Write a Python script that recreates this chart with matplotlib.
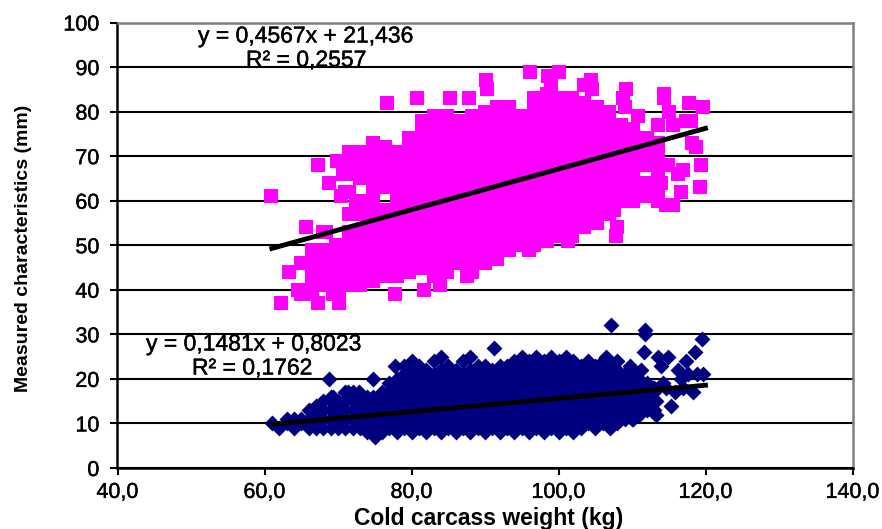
# coding=utf-8
import matplotlib
matplotlib.use("Agg")
import matplotlib.pyplot as plt
import matplotlib.patheffects as pe

plt.rcParams['font.family'] = ['Liberation Sans', 'DejaVu Sans']

# carcass weight column -> measured values in that column
pink_col_x = [65.0, 66.5, 68.0, 69.7, 71.5, 73.0, 74.7, 76.4, 78.0, 79.7, 81.4, 83.0, 84.8, 86.5, 88.2, 90.0,
              91.6, 93.3, 95.0, 96.7, 98.4, 100.0, 101.8, 103.5, 105.2, 106.9, 108.5, 110.2, 112.0, 113.5]
pink_col_y = [
    [39, 46],
    [39, 42, 44, 47, 49],
    [41, 44, 47, 49, 53],
    [39, 42, 45, 48, 50],
    [41, 44, 47, 50, 53, 57, 62, 66, 69, 71],
    [41, 44, 47, 50, 53, 57, 60, 65, 68, 71],
    [42, 45, 48, 51, 54, 57, 60, 62, 65, 68, 71, 73],
    [43, 46, 49, 52, 55, 58, 63, 66, 69, 72],
    [43, 46, 49, 52, 55, 58, 60, 63, 66, 69, 71],
    [44, 47, 50, 53, 56, 59, 62, 65, 68, 71, 74],
    [45, 47, 50, 53, 56, 59, 62, 65, 68, 71, 74, 76, 78],
    [43, 46, 49, 52, 55, 58, 61, 64, 67, 70, 73, 76, 79],
    [44, 47, 50, 53, 56, 59, 62, 65, 68, 71, 74, 77, 79],
    [46, 49, 52, 55, 58, 61, 64, 67, 70, 73, 76, 78],
    [44, 47, 50, 53, 56, 59, 62, 65, 68, 71, 74, 77, 79],
    [46, 49, 52, 55, 58, 61, 64, 67, 70, 73, 76, 78, 80],
    [47, 50, 53, 56, 59, 62, 65, 68, 71, 74, 77, 79, 81],
    [49, 52, 55, 58, 61, 64, 67, 70, 73, 76, 79, 81],
    [50, 53, 56, 59, 62, 65, 68, 71, 74, 77, 79],
    [50, 53, 56, 59, 62, 65, 68, 71, 74, 77, 80, 83],
    [51, 54, 57, 60, 63, 66, 69, 72, 75, 78, 81, 84],
    [52, 55, 58, 61, 64, 67, 70, 73, 76, 79, 81, 83],
    [52, 55, 58, 61, 64, 67, 70, 73, 76, 79, 81, 83],
    [54, 57, 60, 63, 66, 69, 72, 75, 78, 80, 82],
    [55, 58, 61, 64, 67, 70, 73, 76, 79, 81],
    [57, 60, 63, 66, 69, 72, 75, 78, 80],
    [60, 63, 66, 69, 72, 75, 77],
    [60, 63, 66, 69, 72, 74, 76],
    [61, 64, 68, 71, 74],
    [60, 63, 67, 70, 73],
]
pink_out_x = [60.9, 62.3, 63.4, 65.7, 67.3, 68.8, 69.8, 70.7, 71.0, 70.4, 72.5, 76.6, 80.7, 85.3, 87.8, 90.1,
              90.3, 96.1, 98.6, 100.0, 104.4, 103.5, 109.2, 108.8, 114.3, 114.4, 117.7, 119.6, 115.1, 118.0,
              115.6, 113.5, 118.1, 119.4, 116.9, 116.3, 119.3, 116.7, 115.6, 114.6, 107.9, 107.8, 107.6,
              101.3, 96.0, 77.8, 81.7, 83.9, 87.6, 67.3, 70.1, 117.4, 118.7, 114.9, 114.0, 99.0, 104.6, 109.0,
              110.8, 64.5, 65.7, 68.3, 66.8, 69.3, 70.1]
pink_out_y = [61, 37, 44, 54, 68, 64, 69, 66, 62, 61, 60, 82, 83, 83, 83, 87,
              85, 89, 88, 89, 87, 86, 85, 83, 84, 83, 82, 81, 80, 78,
              77, 77, 73, 68, 67, 66, 63, 62, 59, 59, 54, 52, 58,
              51, 49, 39, 40, 41, 43, 37, 37, 78, 72, 68, 64, 86, 85, 81,
              79, 40, 39, 53, 43, 39, 40]

navy_col_x = [61, 62, 63, 64, 65, 66, 67, 68, 69, 70, 71, 72, 73, 74, 75, 76, 77, 78, 79, 80, 81, 82, 83, 84,
              85, 86, 87, 88, 89, 90, 91, 92, 93, 94, 95, 96, 97, 98, 99, 100, 101, 102, 103, 104, 105,
              106, 107, 108, 109, 110, 111, 112, 113]
navy_col_y = [
    [10], [9], [10, 11], [9, 11], [10, 11], [9, 11, 13], [9, 11, 13, 14], [9, 11, 13, 15],
    [9, 11, 13, 15, 16], [9, 11, 13, 15], [9, 11, 13, 15, 17], [9, 11, 13, 15, 17], [9, 11, 13, 15], [8, 10, 12, 14, 16],
    [7, 9, 11, 13, 15], [8, 10, 12, 14, 16, 17], [9, 11, 13, 15, 17, 19], [8, 10, 12, 14, 16, 18, 20],
    [9, 11, 13, 15, 17, 19, 21, 23], [8, 10, 12, 14, 16, 18, 20, 22, 24], [9, 11, 13, 15, 17, 19, 21, 23],
    [8, 10, 12, 14, 16, 18, 20, 22], [9, 11, 13, 15, 17, 19, 21, 24], [8, 10, 12, 14, 16, 18, 20, 22, 25],
    [9, 11, 13, 15, 17, 19, 21, 23], [8, 10, 12, 14, 16, 18, 20, 22], [9, 11, 13, 15, 17, 19, 21, 24],
    [8, 10, 12, 14, 16, 18, 20, 22, 25], [9, 11, 13, 15, 17, 19, 21, 23], [8, 10, 12, 14, 16, 18, 20, 22, 23],
    [9, 11, 13, 15, 17, 19, 21, 22], [8, 10, 12, 14, 16, 18, 20, 22, 23], [9, 11, 13, 15, 17, 19, 21, 23],
    [8, 10, 12, 14, 16, 18, 20, 22, 24], [9, 11, 13, 15, 17, 19, 21, 23, 25], [8, 10, 12, 14, 16, 18, 20, 22, 24],
    [9, 11, 13, 15, 17, 19, 21, 23, 25], [8, 10, 12, 14, 16, 18, 20, 22, 24], [9, 11, 13, 15, 17, 19, 21, 23, 25],
    [8, 10, 12, 14, 16, 18, 20, 22, 24], [9, 11, 13, 15, 17, 19, 21, 23, 25], [8, 10, 12, 14, 16, 18, 20, 22, 24],
    [9, 11, 13, 15, 17, 19, 21, 23], [10, 12, 14, 16, 18, 20, 22, 24], [9, 11, 13, 15, 17, 19, 21, 23],
    [10, 12, 14, 16, 18, 20, 22, 24], [9, 11, 13, 15, 17, 19, 21, 23], [10, 12, 14, 16, 18, 20, 22],
    [11, 13, 15, 17, 19, 21], [11, 13, 15, 17, 19, 21], [12, 14, 16, 18, 20], [13, 15, 17, 19],
    [13, 15, 17, 18],
]
navy_out_x = [107.2, 111.8, 111.8, 111.6, 119.5, 118.6, 117.4, 116.2, 114.0, 113.6, 114.9, 119.6, 117.6, 118.3,
              115.3, 113.2, 110.1, 113.3, 114.6, 111.2, 109.7, 107.9, 106.5, 91.2, 68.8, 74.7, 69.3, 72.9,
              71.3, 74.7, 77.7, 112.8, 114.2, 116.6, 117.0, 118.9, 115.8]
navy_out_y = [32, 31, 30, 26, 29, 26, 24, 22, 23, 25, 25, 21, 21, 17,
              14, 12, 11, 15, 18, 22, 23, 24, 25, 27, 20, 20, 16, 17,
              17, 16, 23, 18, 19, 20, 18, 21, 17]

trend_x = [61, 120]
pink_slope, pink_icpt = 0.4567, 21.436
navy_slope, navy_icpt = 0.1481, 0.8023

x_ticks = [40, 60, 80, 100, 120, 140]
x_labels = ["40,0", "60,0", "80,0", "100,0", "120,0", "140,0"]
y_ticks = [0, 10, 20, 30, 40, 50, 60, 70, 80, 90, 100]

heavy = [pe.withStroke(linewidth=0.3, foreground='black')]


def expand(col_x, col_y):
    xs, ys = [], []
    for cx, vals in zip(col_x, col_y):
        for v in vals:
            xs.append(cx)
            ys.append(v)
    return xs, ys


def main():
    fig = plt.figure(figsize=(8.82, 5.29), dpi=100)
    ax = fig.add_axes([117.5 / 882, 61 / 529, 735 / 882, 445.5 / 529])

    px, py = expand(pink_col_x, pink_col_y)
    nx, ny = expand(navy_col_x, navy_col_y)
    ax.scatter(px + pink_out_x, py + pink_out_y, marker='s', s=100, color='#ff00ff', linewidths=0, zorder=3)
    ax.scatter(nx + navy_out_x, ny + navy_out_y, marker='D', s=66, color='#000080', linewidths=0, zorder=3)

    ax.plot(trend_x, [pink_slope * x + pink_icpt for x in trend_x], color='black', lw=3.5, zorder=4)
    ax.plot(trend_x, [navy_slope * x + navy_icpt for x in trend_x], color='black', lw=3.5, zorder=4)

    ax.set_xlim(40, 140)
    ax.set_ylim(0, 100)
    ax.set_xticks(x_ticks)
    ax.set_xticklabels(x_labels)
    ax.set_yticks(y_ticks)
    ax.tick_params(axis='both', labelsize=15.5, width=1.5, length=5)
    ax.tick_params(axis='y', pad=8)
    ax.tick_params(axis='x', pad=5)
    for lab in ax.get_xticklabels() + ax.get_yticklabels():
        lab.set_path_effects(heavy)
    ax.grid(True, axis='y', color='black', lw=1.5, zorder=1)
    ax.set_axisbelow(True)

    for side in ['left', 'bottom']:
        ax.spines[side].set_color('black')
        ax.spines[side].set_linewidth(1.8)
    for side in ['top', 'right']:
        ax.spines[side].set_color('#808080')
        ax.spines[side].set_linewidth(1.8)

    fig.text(489 / 882, 1 - 518 / 529, "Cold carcass weight (kg)", fontsize=16.5, fontweight='bold',
             ha='center', va='center')
    fig.text(24 / 882, 1 - 248 / 529, "Measured characteristics (mm)", fontsize=14, fontweight='bold',
             rotation=90, ha='center', va='center')

    for tx, ty, s in [(198, 36, "y = 0,4567x + 21,436"), (246, 60, "R² = 0,2557"),
                      (146, 344, "y = 0,1481x + 0,8023"), (192, 368, "R² = 0,1762")]:
        fig.text(tx / 882, 1 - ty / 529, s, fontsize=16.5, va='center', path_effects=heavy)

    fig.savefig("out.png", dpi=100)


if __name__ == "__main__":
    main()
